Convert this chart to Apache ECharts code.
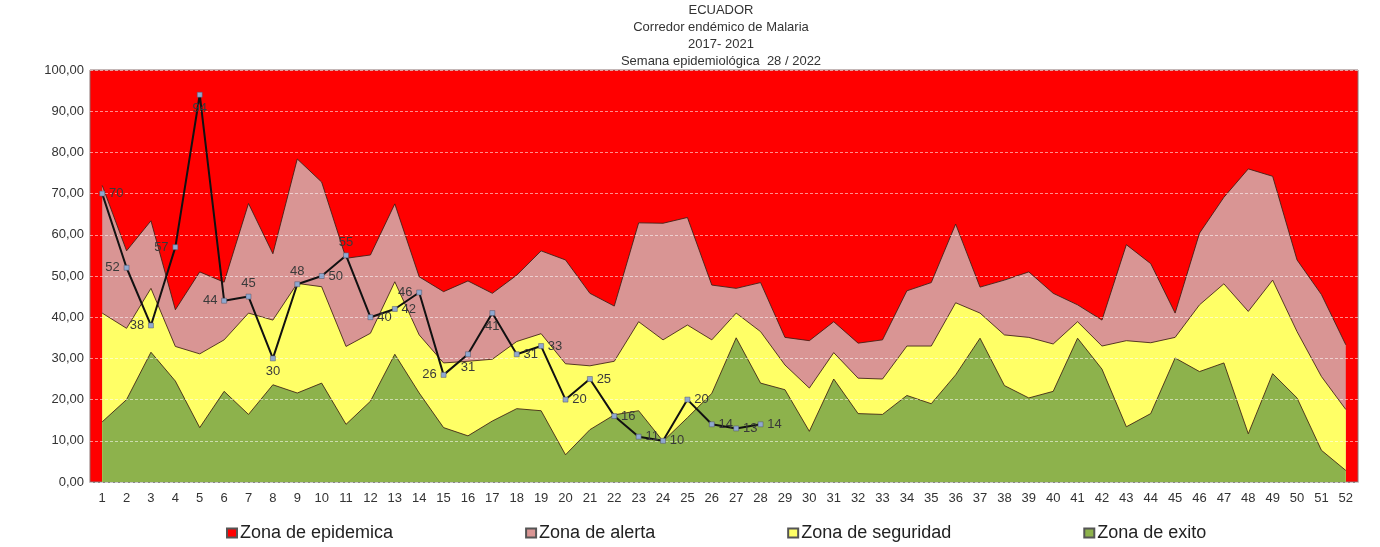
<!DOCTYPE html>
<html>
<head>
<meta charset="utf-8">
<script src="https://cdn.jsdelivr.net/npm/echarts@6/dist/echarts.min.js"></script>
<style>
  html, body { margin: 0; padding: 0; background: #fff; }
  #chart { width: 1380px; height: 547px; }
</style>
</head>
<body>
<div id="chart"></div>
<script>
// semanas epidemiológicas
const weeks = [
  "1", "2", "3", "4", "5", "6", "7", "8", "9", "10", "11", "12", "13",
  "14", "15", "16", "17", "18", "19", "20", "21", "22", "23", "24", "25", "26",
  "27", "28", "29", "30", "31", "32", "33", "34", "35", "36", "37", "38", "39",
  "40", "41", "42", "43", "44", "45", "46", "47", "48", "49", "50", "51", "52",
];

// upper limit of each zone
const alerta = [
  72.0, 56.1, 63.4, 41.8, 51.0, 48.5, 67.6, 55.4, 78.4, 72.8, 54.3, 55.1, 67.5,
  49.8, 46.2, 48.8, 45.8, 50.2, 56.1, 53.9, 45.8, 42.7, 62.9, 62.8, 64.2, 47.8,
  47.0, 48.4, 35.1, 34.3, 38.9, 33.7, 34.5, 46.4, 48.4, 62.6, 47.3, 49.0, 51.0,
  45.8, 43.0, 39.3, 57.6, 53.0, 41.0, 60.4, 69.1, 76.0, 74.2, 53.9, 45.5, 33.3,
];
const seguridad = [
  41.0, 37.3, 47.0, 32.9, 31.1, 34.5, 41.0, 39.3, 48.2, 47.4, 32.9, 36.1, 48.6,
  35.7, 28.9, 29.3, 29.8, 34.1, 36.0, 28.7, 28.2, 29.3, 38.9, 34.5, 38.1, 34.5,
  41.0, 36.5, 28.4, 22.8, 31.4, 25.2, 25.0, 33.0, 33.0, 43.5, 41.0, 35.7, 35.1,
  33.5, 38.9, 33.0, 34.3, 33.8, 35.1, 43.0, 48.1, 41.4, 49.0, 36.5, 25.6, 17.6,
];
const exito = [
  14.6, 20.0, 31.5, 24.5, 13.2, 22.0, 16.4, 23.6, 21.6, 24.0, 14.0, 19.6, 31.0,
  21.6, 13.2, 11.2, 14.8, 17.8, 17.3, 6.6, 12.7, 16.3, 17.3, 9.9, 15.6, 21.5,
  35.0, 24.0, 22.4, 12.3, 25.0, 16.6, 16.4, 21.0, 19.0, 26.0, 34.9, 23.4, 20.4,
  22.0, 34.9, 27.4, 13.4, 16.6, 30.1, 26.8, 28.9, 11.7, 26.3, 20.4, 7.7, 2.8,
];

// casos 2022 hasta la semana 28
const casos = [
  70, 52, 38, 57, 94, 44, 45, 30, 48, 50, 55, 40, 42, 46,
  26, 31, 41, 31, 33, 20, 25, 16, 11, 10, 20, 14, 13, 14,
];

const yTicks = [0, 10, 20, 30, 40, 50, 60, 70, 80, 90, 100];

// where the value label sits for some weeks (the rest go right)
const labelPos = {
  2: "left", 3: "left", 4: "left", 5: "bottom", 6: "left", 7: "top",
  8: "bottom", 9: "top", 11: "top", 14: "left", 15: "left", 16: "bottom", 17: "bottom",
};

const chart = echarts.init(document.getElementById("chart"), null, { renderer: "canvas" });

const font = "Liberation Sans, Arial, sans-serif";
const edge = "rgba(60, 30, 20, 0.85)";

function zone(name, data, color) {
  return {
    name: name,
    type: "line",
    data: data,
    symbol: "none",
    silent: true,
    lineStyle: { color: edge, width: 1 },
    itemStyle: { color: color, borderColor: "#555", borderWidth: 1 },
    areaStyle: { color: color, opacity: 1, origin: "start" },
  };
}

const option = {
  backgroundColor: "#fff",
  animation: false,
  textStyle: { fontFamily: font },
  title: {
    text: "ECUADOR\nCorredor endémico de Malaria\n2017- 2021\nSemana epidemiológica  28 / 2022",
    left: 716,
    textAlign: "center",
    top: -3,
    textStyle: { fontSize: 13, fontWeight: "normal", color: "#333", lineHeight: 17, fontFamily: font },
  },
  grid: {
    left: 90, right: 22, top: 70, bottom: 65,
    show: true, backgroundColor: "#ff0000", borderColor: "#8a7070", borderWidth: 1,
  },
  legend: {
    data: ["Zona de epidemica", "Zona de alerta", "Zona de seguridad", "Zona de exito"],
    left: 221,
    top: 519,
    icon: "rect",
    itemWidth: 10,
    itemHeight: 9,
    itemGap: 132,
    textStyle: { fontSize: 18, color: "#222", fontFamily: font, padding: [0, 0, 0, -2] },
  },
  xAxis: {
    type: "category",
    data: weeks,
    boundaryGap: true,
    axisLine: { lineStyle: { color: "#888", width: 1 } },
    axisTick: { show: false },
    axisLabel: { fontSize: 13, color: "#333", margin: 10, interval: 0 },
  },
  yAxis: {
    type: "value",
    min: yTicks[0],
    max: yTicks[yTicks.length - 1],
    interval: 10,
    z: 5,
    axisLine: { show: false },
    axisTick: { show: false },
    axisLabel: {
      fontSize: 13, color: "#333", margin: 6,
      formatter: (v) => v.toFixed(2).replace(".", ","),
    },
    splitLine: { lineStyle: { color: "rgba(255,255,255,0.55)", type: [3, 2], width: 1 } },
  },
  series: [
    {
      name: "Zona de epidemica",
      type: "line",
      data: [],
      itemStyle: { color: "#ff0000", borderColor: "#555", borderWidth: 1 },
    },
    zone("Zona de alerta", alerta, "#d99594"),
    zone("Zona de seguridad", seguridad, "#ffff66"),
    zone("Zona de exito", exito, "#8db24c"),
    {
      name: "Casos 2022",
      type: "line",
      z: 10,
      data: casos.map((v, i) => ({
        value: v,
        label: { position: labelPos[i + 1] || "right" },
      })),
      symbol: "rect",
      symbolSize: 5,
      lineStyle: { color: "#111", width: 2 },
      itemStyle: { color: "#8fa8d0", borderColor: "#556", borderWidth: 0.5 },
      label: {
        show: true,
        fontSize: 13,
        color: "#3a3a3a",
        distance: 4,
        fontFamily: font,
      },
    },
  ],
};

chart.setOption(option);
window.addEventListener("resize", () => chart.resize());
</script>
</body>
</html>
